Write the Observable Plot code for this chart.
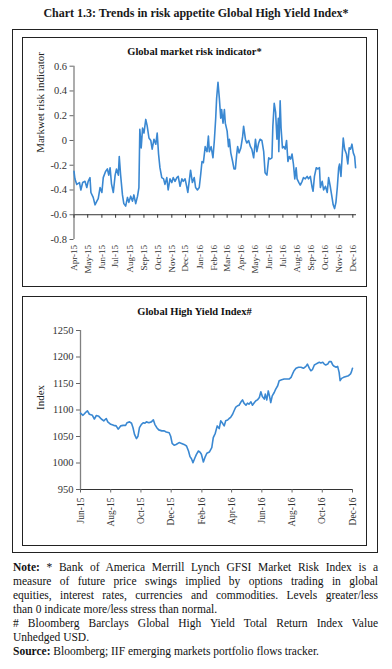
<!DOCTYPE html>
<html>
<head>
<meta charset="utf-8">
<script src="https://cdn.jsdelivr.net/npm/d3@7"></script>
<script src="https://cdn.jsdelivr.net/npm/@observablehq/plot@0.6"></script>
<style>
  body { margin: 0; background: #fff; font-family: "Liberation Serif", "DejaVu Serif", serif; color: #111; }
  #page { position: relative; width: 392px; height: 669px; overflow: hidden; }
  .abs { position: absolute; }
  .box { position: absolute; border: 1px solid #222; box-sizing: border-box; }
  .ctitle { position: absolute; left: 22px; width: 345px; text-align: center; font-weight: bold; font-size: 10.5px; line-height: 12px; color: #111; }
  #notes { position: absolute; left: 13px; top: 560px; width: 365px; font-size: 11.5px; line-height: 14px; color: #111; }
  #notes .j { text-align: justify; text-align-last: justify; }
  #notes .l { text-align: left; }
</style>
</head>
<body>
<div id="page">
  <div class="abs" style="left:0;top:6px;width:392px;text-align:center;font-weight:bold;font-size:12px;line-height:14px;color:#1a1a1a;">Chart 1.3: Trends in risk appetite Global High Yield Index*</div>
  <div id="c1" class="abs" style="left:22px;top:37px;"></div>
  <div id="c2" class="abs" style="left:22px;top:296px;"></div>
  <div class="box" style="left:12px;top:29px;width:366px;height:524px;"></div>
  <div class="box" style="left:22px;top:37px;width:345px;height:250px;"></div>
  <div class="box" style="left:22px;top:296px;width:345px;height:250px;"></div>
  <div class="ctitle" style="top:46px;">Global market risk indicator*</div>
  <div class="ctitle" style="top:306px;">Global High Yield Index#</div>
  <div id="notes">
    <div class="j"><b>Note:</b> * Bank of America Merrill Lynch GFSI Market Risk Index is a</div>
    <div class="j">measure of future price swings implied by options trading in global</div>
    <div class="j">equities, interest rates, currencies and commodities. Levels greater/less</div>
    <div class="l">than 0 indicate more/less stress than normal.</div>
    <div class="j"># Bloomberg Barclays Global High Yield Total Return Index Value</div>
    <div class="l">Unhedged USD.</div>
    <div class="l"><b>Source:</b> Bloomberg; IIF emerging markets portfolio flows tracker.</div>
  </div>
</div>
<script>
// ---------- Chart 1 data: Global market risk indicator ----------
const riskData = [
  ["2015-04-01", -0.25], ["2015-04-03", -0.31], ["2015-04-07", -0.355], ["2015-04-13", -0.34],
  ["2015-04-16", -0.40], ["2015-04-20", -0.34], ["2015-04-25", -0.33], ["2015-04-29", -0.38],
  ["2015-05-02", -0.33], ["2015-05-06", -0.30], ["2015-05-08", -0.42], ["2015-05-13", -0.46],
  ["2015-05-17", -0.52], ["2015-05-21", -0.49], ["2015-05-24", -0.47], ["2015-05-28", -0.38],
  ["2015-06-01", -0.42], ["2015-06-04", -0.30], ["2015-06-09", -0.25], ["2015-06-13", -0.23],
  ["2015-06-16", -0.28], ["2015-06-19", -0.22], ["2015-06-22", -0.35], ["2015-06-26", -0.42],
  ["2015-06-30", -0.28], ["2015-07-03", -0.23], ["2015-07-07", -0.28], ["2015-07-09", -0.13],
  ["2015-07-12", -0.28], ["2015-07-16", -0.44], ["2015-07-19", -0.51], ["2015-07-23", -0.53],
  ["2015-07-27", -0.46], ["2015-07-30", -0.50], ["2015-08-03", -0.45], ["2015-08-07", -0.49],
  ["2015-08-10", -0.44], ["2015-08-14", -0.51], ["2015-08-18", -0.45], ["2015-08-21", -0.38],
  ["2015-08-23", 0.09], ["2015-08-26", -0.06], ["2015-08-29", 0.10], ["2015-09-01", 0.06],
  ["2015-09-05", 0.17], ["2015-09-08", 0.12], ["2015-09-12", 0.02], ["2015-09-16", 0.0],
  ["2015-09-19", -0.07], ["2015-09-23", 0.01], ["2015-09-27", -0.03], ["2015-09-30", 0.06],
  ["2015-10-03", -0.11], ["2015-10-06", -0.22], ["2015-10-10", -0.30], ["2015-10-14", -0.31],
  ["2015-10-17", -0.355], ["2015-10-21", -0.30], ["2015-10-24", -0.40], ["2015-10-28", -0.31],
  ["2015-11-01", -0.34], ["2015-11-04", -0.30], ["2015-11-08", -0.33], ["2015-11-12", -0.30],
  ["2015-11-15", -0.29], ["2015-11-19", -0.37], ["2015-11-23", -0.31], ["2015-11-26", -0.33],
  ["2015-11-30", -0.31], ["2015-12-04", -0.38], ["2015-12-06", -0.42], ["2015-12-09", -0.33],
  ["2015-12-12", -0.24], ["2015-12-16", -0.34], ["2015-12-20", -0.30], ["2015-12-23", -0.38],
  ["2015-12-27", -0.40], ["2015-12-31", -0.38], ["2016-01-03", -0.28], ["2016-01-06", -0.17],
  ["2016-01-09", -0.18], ["2016-01-13", -0.05], ["2016-01-17", -0.09], ["2016-01-20", 0.035],
  ["2016-01-22", -0.09], ["2016-01-26", -0.05], ["2016-01-30", -0.14], ["2016-02-02", 0.0],
  ["2016-02-05", 0.18], ["2016-02-07", 0.34], ["2016-02-10", 0.47], ["2016-02-13", 0.34],
  ["2016-02-16", 0.18], ["2016-02-18", 0.25], ["2016-02-21", 0.14], ["2016-02-24", 0.25],
  ["2016-02-26", 0.14], ["2016-03-01", 0.075], ["2016-03-04", -0.05], ["2016-03-06", 0.01],
  ["2016-03-09", -0.10], ["2016-03-13", -0.17], ["2016-03-16", -0.23], ["2016-03-19", -0.23],
  ["2016-03-22", -0.11], ["2016-03-24", -0.05], ["2016-03-27", -0.10], ["2016-03-31", -0.06],
  ["2016-04-04", 0.035], ["2016-04-06", 0.115], ["2016-04-10", 0.01], ["2016-04-13", -0.02],
  ["2016-04-17", 0.0], ["2016-04-21", -0.05], ["2016-04-24", -0.07], ["2016-04-28", -0.14],
  ["2016-05-02", 0.01], ["2016-05-05", -0.09], ["2016-05-09", -0.02], ["2016-05-12", 0.01],
  ["2016-05-16", 0.0], ["2016-05-20", -0.09], ["2016-05-23", -0.26], ["2016-05-27", -0.28],
  ["2016-05-31", -0.14], ["2016-06-03", -0.15], ["2016-06-07", -0.14], ["2016-06-09", 0.115],
  ["2016-06-12", 0.30], ["2016-06-15", 0.23], ["2016-06-18", 0.01], ["2016-06-21", 0.18],
  ["2016-06-22", -0.09], ["2016-06-25", 0.32], ["2016-06-27", 0.10], ["2016-06-30", -0.06],
  ["2016-07-03", -0.05], ["2016-07-06", -0.07], ["2016-07-09", 0.0], ["2016-07-12", -0.17],
  ["2016-07-15", -0.13], ["2016-07-18", -0.15], ["2016-07-21", -0.11], ["2016-07-24", -0.19],
  ["2016-07-27", -0.31], ["2016-07-30", -0.22], ["2016-08-01", -0.31], ["2016-08-05", -0.34],
  ["2016-08-08", -0.36], ["2016-08-12", -0.33], ["2016-08-15", -0.30], ["2016-08-19", -0.31],
  ["2016-08-23", -0.29], ["2016-08-26", -0.31], ["2016-08-30", -0.29], ["2016-09-03", -0.38],
  ["2016-09-05", -0.41], ["2016-09-08", -0.29], ["2016-09-12", -0.22], ["2016-09-15", -0.23],
  ["2016-09-19", -0.22], ["2016-09-21", -0.38], ["2016-09-25", -0.33], ["2016-09-28", -0.40],
  ["2016-10-02", -0.37], ["2016-10-06", -0.42], ["2016-10-09", -0.30], ["2016-10-13", -0.38],
  ["2016-10-16", -0.45], ["2016-10-19", -0.52], ["2016-10-22", -0.55], ["2016-10-25", -0.50],
  ["2016-10-28", -0.38], ["2016-10-31", -0.22], ["2016-11-02", -0.19], ["2016-11-05", -0.29],
  ["2016-11-08", -0.10], ["2016-11-10", 0.02], ["2016-11-13", -0.07], ["2016-11-17", -0.11],
  ["2016-11-20", -0.19], ["2016-11-23", -0.06], ["2016-11-26", -0.07], ["2016-11-29", -0.03],
  ["2016-12-02", -0.10], ["2016-12-05", -0.13], ["2016-12-07", -0.22]
];
const riskXDomain = ["2015-04-01", "2016-12-09"];
const riskYTicks = [0.6, 0.4, 0.2, 0, -0.2, -0.4, -0.6, -0.8];
const riskXAxisLevel = -0.6;
const riskTickLabels = ["Apr-15", "May-15", "Jun-15", "Jul-15", "Aug-15", "Sep-15", "Oct-15", "Nov-15",
  "Dec-15", "Jan-16", "Feb-16", "Mar-16", "Apr-16", "May-16", "Jun-16", "Jul-16", "Aug-16", "Sep-16",
  "Oct-16", "Nov-16", "Dec-16"];
const riskYLabel = "Markwet risk indicator";

// ---------- Chart 2 data: Global High Yield Index ----------
const hyData = [
  ["2015-06-01", 1094], ["2015-06-06", 1090], ["2015-06-10", 1094], ["2015-06-15", 1098.5],
  ["2015-06-19", 1092], ["2015-06-25", 1090], ["2015-06-29", 1083], ["2015-07-03", 1089.6],
  ["2015-07-08", 1088], ["2015-07-13", 1083], ["2015-07-18", 1079.5], ["2015-07-23", 1084],
  ["2015-07-26", 1077.6], ["2015-08-01", 1073], ["2015-08-07", 1071], ["2015-08-12", 1070],
  ["2015-08-16", 1063.8], ["2015-08-21", 1070], ["2015-08-26", 1071], ["2015-08-31", 1071],
  ["2015-09-03", 1076], ["2015-09-08", 1077.6], ["2015-09-12", 1075], ["2015-09-15", 1066.6],
  ["2015-09-18", 1054], ["2015-09-22", 1046], ["2015-09-25", 1050.5], ["2015-09-28", 1066.6],
  ["2015-10-02", 1073], ["2015-10-06", 1076], ["2015-10-09", 1075], ["2015-10-12", 1077.6],
  ["2015-10-17", 1076], ["2015-10-22", 1077.6], ["2015-10-26", 1081.4], ["2015-10-29", 1073],
  ["2015-11-02", 1066.6], ["2015-11-06", 1062.5], ["2015-11-12", 1060.6], ["2015-11-17", 1060.6],
  ["2015-11-21", 1058.5], ["2015-11-27", 1057], ["2015-11-30", 1050.5], ["2015-12-03", 1037],
  ["2015-12-07", 1033.5], ["2015-12-11", 1035], ["2015-12-17", 1038.5], ["2015-12-22", 1037],
  ["2015-12-27", 1035], ["2016-01-01", 1032], ["2016-01-05", 1022.7], ["2016-01-08", 1012],
  ["2016-01-11", 1008], ["2016-01-14", 1000.6], ["2016-01-18", 1010], ["2016-01-21", 1016.4],
  ["2016-01-25", 1022.7], ["2016-01-28", 1020.7], ["2016-01-31", 1016.4], ["2016-02-04", 1002],
  ["2016-02-07", 1010], ["2016-02-11", 1018.4], ["2016-02-16", 1020.7], ["2016-02-21", 1029],
  ["2016-02-24", 1048], ["2016-02-28", 1056], ["2016-03-03", 1070], ["2016-03-07", 1065],
  ["2016-03-10", 1079.5], ["2016-03-13", 1076], ["2016-03-17", 1070], ["2016-03-20", 1079.5],
  ["2016-03-24", 1081], ["2016-03-27", 1084], ["2016-03-30", 1086], ["2016-04-03", 1092],
  ["2016-04-06", 1098.5], ["2016-04-09", 1104.8], ["2016-04-13", 1108], ["2016-04-16", 1109],
  ["2016-04-20", 1115.5], ["2016-04-23", 1119], ["2016-04-26", 1113], ["2016-04-30", 1109],
  ["2016-05-03", 1113], ["2016-05-06", 1111], ["2016-05-10", 1115.5], ["2016-05-13", 1109],
  ["2016-05-17", 1114], ["2016-05-20", 1117.4], ["2016-05-23", 1119], ["2016-05-27", 1123.7],
  ["2016-05-30", 1134.5], ["2016-06-02", 1125.5], ["2016-06-06", 1120.6], ["2016-06-08", 1130],
  ["2016-06-11", 1119], ["2016-06-14", 1136], ["2016-06-17", 1123.7], ["2016-06-19", 1114],
  ["2016-06-22", 1126.7], ["2016-06-26", 1133], ["2016-06-29", 1139.5], ["2016-07-03", 1145.8],
  ["2016-07-06", 1155.3], ["2016-07-11", 1157], ["2016-07-16", 1158.4], ["2016-07-22", 1158.4],
  ["2016-07-26", 1158.4], ["2016-07-30", 1161.6], ["2016-08-02", 1168], ["2016-08-05", 1174],
  ["2016-08-09", 1178.7], ["2016-08-14", 1180.6], ["2016-08-19", 1180.6], ["2016-08-24", 1178.7],
  ["2016-08-29", 1182.4], ["2016-09-01", 1186.6], ["2016-09-05", 1178.7], ["2016-09-08", 1174],
  ["2016-09-11", 1176], ["2016-09-15", 1185], ["2016-09-18", 1186.6], ["2016-09-22", 1188.8],
  ["2016-09-25", 1190], ["2016-09-28", 1188.8], ["2016-10-02", 1190], ["2016-10-05", 1186.6],
  ["2016-10-08", 1185], ["2016-10-12", 1186.6], ["2016-10-15", 1191.3], ["2016-10-19", 1191.3],
  ["2016-10-22", 1185], ["2016-10-25", 1182.4], ["2016-10-29", 1180.6], ["2016-11-01", 1182.4],
  ["2016-11-04", 1171], ["2016-11-06", 1155.3], ["2016-11-09", 1159.7], ["2016-11-13", 1161.6],
  ["2016-11-18", 1163.4], ["2016-11-23", 1164.8], ["2016-11-27", 1168], ["2016-11-29", 1172.4],
  ["2016-12-01", 1178.7]
];
const hyXDomain = ["2015-06-01", "2016-12-01"];
const hyYTicks = [950, 1000, 1050, 1100, 1150, 1200, 1250];
const hyTickLabels = ["Jun-15", "Aug-15", "Oct-15", "Dec-15", "Feb-16", "Apr-16", "Jun-16", "Aug-16", "Oct-16", "Dec-16"];
const hyYLabel = "Index";

// ---------- helpers ----------
const parseDay = d3.utcParse("%Y-%m-%d");
const parseMon = d3.utcParse("%b-%y");
const fmtMon = d3.utcFormat("%b-%y");
const LINE = "#3a88d2";
const FONT = "Liberation Serif, DejaVu Serif, serif";

// ---------- Chart 1 ----------
{
  const W = 345, H = 249, mT = 28.7, mB = 47;
  const yDom = [d3.min(riskYTicks), d3.max(riskYTicks)];
  const pxPerUnit = (H - mT - mB) / (yDom[1] - yDom[0]);
  const axisShift = (riskXAxisLevel - yDom[0]) * pxPerUnit;
  const ticks = riskTickLabels.map(parseMon);
  const xStart = parseDay(riskXDomain[0]);
  const chart = Plot.plot({
    width: W, height: H,
    marginLeft: 51.5, marginRight: 11, marginTop: mT, marginBottom: mB,
    style: {fontFamily: FONT, fontSize: "10.5px", color: "#333", background: "none", overflow: "visible"},
    x: {type: "utc", domain: riskXDomain.map(parseDay), axis: null},
    y: {domain: yDom, axis: null},
    marks: [
      Plot.ruleY([riskXAxisLevel], {stroke: "#333", strokeWidth: 1}),
      Plot.ruleX([xStart], {stroke: "#808080", strokeWidth: 1.3}),
      Plot.axisY({ticks: riskYTicks, tickSize: 4, tickPadding: 3, stroke: "#666",
        tickFormat: d => d === 0 ? "0" : d.toFixed(1), label: null}),
      Plot.axisX({ticks, tickSize: 3.5, tickFormat: () => "", dy: -axisShift, stroke: "#333", label: null}),
      Plot.axisX({ticks, tickSize: 0, tickPadding: 5.5, tickRotate: -90, tickFormat: fmtMon,
        fontSize: 9, label: null}),
      Plot.text([riskYLabel], {frameAnchor: "left", rotate: -90, dx: -33.5, fontSize: 11, fill: "#222"}),
      Plot.line(riskData, {x: d => parseDay(d[0]), y: d => d[1], stroke: LINE, strokeWidth: 1.6})
    ]
  });
  document.getElementById("c1").appendChild(chart);
}

// ---------- Chart 2 ----------
{
  const W = 345, H = 249;
  const ticks = hyTickLabels.map(parseMon);
  const xStart = parseDay(hyXDomain[0]);
  const yDom = [d3.min(hyYTicks), d3.max(hyYTicks)];
  const chart = Plot.plot({
    width: W, height: H,
    marginLeft: 58, marginRight: 15, marginTop: 34, marginBottom: 56,
    style: {fontFamily: FONT, fontSize: "10.5px", color: "#333", background: "none", overflow: "visible"},
    x: {type: "utc", domain: hyXDomain.map(parseDay), axis: null},
    y: {domain: yDom, axis: null},
    marks: [
      Plot.ruleY([yDom[0]], {stroke: "#333", strokeWidth: 1}),
      Plot.ruleX([xStart], {stroke: "#808080", strokeWidth: 1.3}),
      Plot.axisY({ticks: hyYTicks, tickSize: 4, tickPadding: 3, stroke: "#666", tickFormat: d => String(d), label: null}),
      Plot.axisX({ticks, tickSize: 3.5, tickPadding: 4.5, tickRotate: -90, tickFormat: fmtMon, stroke: "#666",
        fontSize: 9.5, label: null}),
      Plot.text([hyYLabel], {frameAnchor: "left", rotate: -90, dx: -40.5, fontSize: 11, fill: "#222"}),
      Plot.line(hyData, {x: d => parseDay(d[0]), y: d => d[1], stroke: LINE, strokeWidth: 1.6})
    ]
  });
  document.getElementById("c2").appendChild(chart);
}
</script>
</body>
</html>
